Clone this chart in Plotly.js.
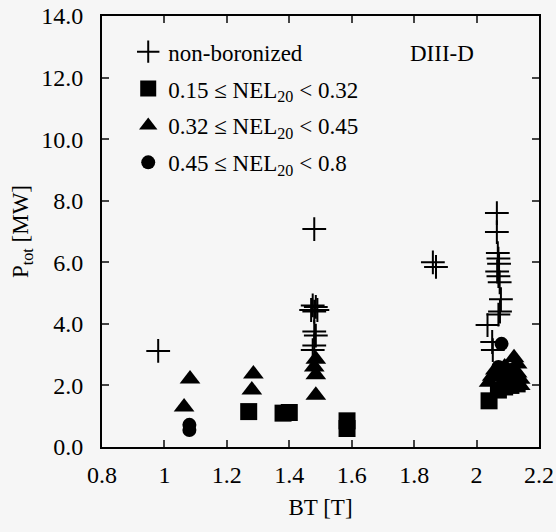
<!DOCTYPE html>
<html>
<head>
<meta charset="utf-8">
<script src="https://cdn.plot.ly/plotly-3.0.1.min.js"></script>
<style>html,body{margin:0;padding:0;background:#f6f6f6;}#chart{width:556px;height:532px;}</style>
</head>
<body>
<div id="chart"></div>
<script>
// non-boronized (+)
const plusBT = [0.98, 1.48, 1.475, 1.485, 1.49, 1.48, 1.47, 1.48, 1.485, 1.475, 1.48, 1.86, 1.87, 2.065, 2.065, 2.068, 2.07, 2.072, 2.066, 2.07, 2.074, 2.078, 2.075, 2.07, 2.035, 2.05, 2.052];
const plusP  = [3.12, 7.08, 4.6, 4.55, 4.45, 4.4, 4.45, 3.75, 3.62, 3.15, 3.3, 6.0, 5.85, 7.6, 6.98, 6.3, 6.12, 5.95, 5.7, 5.55, 5.35, 4.8, 4.4, 4.3, 3.96, 3.41, 3.15];
// 0.15 <= NEL20 < 0.32 (squares)
const sqBT = [1.27, 1.38, 1.40, 1.585, 1.585, 2.04, 2.07, 2.09, 2.11, 2.13];
const sqP  = [1.15, 1.10, 1.12, 0.85, 0.60, 1.50, 1.85, 1.95, 2.00, 2.05];
// 0.32 <= NEL20 < 0.45 (triangles)
const trBT = [1.063, 1.082, 1.28, 1.285, 1.485, 1.485, 1.485, 1.48, 2.04, 2.05, 2.06, 2.08, 2.09, 2.10, 2.11, 2.12, 2.13, 2.13, 2.14, 2.14, 2.12];
const trP  = [1.30, 2.21, 1.85, 2.37, 1.68, 2.35, 2.85, 2.60, 2.10, 2.30, 2.50, 2.30, 2.60, 2.50, 2.20, 2.90, 2.70, 2.40, 2.20, 2.00, 2.10];
// 0.45 <= NEL20 < 0.8 (circles)
const ciBT = [1.08, 1.08, 2.08, 2.07, 2.06, 2.09, 2.11];
const ciP  = [0.72, 0.55, 3.35, 2.60, 2.35, 2.20, 2.50];

const names = ["non-boronized", "0.15 ≤ NEL<sub>20</sub> &lt; 0.32", "0.32 ≤ NEL<sub>20</sub> &lt; 0.45", "0.45 ≤ NEL<sub>20</sub> &lt; 0.8"];
const xTicks = [0.8, 1.0, 1.2, 1.4, 1.6, 1.8, 2.0, 2.2];
const xTickText = ["0.8", "1", "1.2", "1.4", "1.6", "1.8", "2", "2.2"];
const yTicks = [0, 2, 4, 6, 8, 10, 12, 14];
const yTickText = ["0.0", "2.0", "4.0", "6.0", "8.0", "10.0", "12.0", "14.0"];

const F = "'Liberation Serif', 'Times New Roman', serif";
const traces = [
  {x: plusBT, y: plusP, name: names[0], legendgroup: "a", mode: "markers", type: "scatter",
   marker: {symbol: "cross-thin", size: 17, color: "black", line: {color: "black", width: 2}}},
  {x: sqBT, y: sqP, name: names[1], legendgroup: "b", mode: "markers", type: "scatter",
   marker: {symbol: "square", size: 17, color: "black"}},
  {x: trBT, y: trP, name: names[2], legendgroup: "c", mode: "markers", type: "scatter",
   marker: {symbol: "triangle-up", size: 18, color: "black"}},
  {x: ciBT, y: ciP, name: names[3], legendgroup: "d", mode: "markers", type: "scatter",
   marker: {symbol: "circle", size: 14, color: "black"}}
];

const layout = {
  width: 556, height: 532,
  margin: {l: 102, r: 17, t: 16, b: 85},
  paper_bgcolor: "#f6f6f6", plot_bgcolor: "#f6f6f6",
  font: {family: F, size: 23, color: "black"},
  showlegend: true,
  legend: {x: 0.06, y: 0.967, xanchor: "left", yanchor: "top", bgcolor: "rgba(0,0,0,0)",
           font: {family: F, size: 23, color: "black"}, traceorder: "grouped", tracegroupgap: 4},
  xaxis: {range: [0.8, 2.2], tickvals: xTicks, ticktext: xTickText, ticks: "inside", ticklen: 7, tickwidth: 2,
          showline: true, linewidth: 2, linecolor: "black", mirror: "ticks", showgrid: false, zeroline: false,
          tickfont: {family: F, size: 24}, ticklabelstandoff: 5,
          title: {text: "BT [T]", font: {family: F, size: 23}, standoff: 12}},
  yaxis: {range: [0, 14], tickvals: yTicks, ticktext: yTickText, ticks: "inside", ticklen: 7, tickwidth: 2,
          showline: true, linewidth: 2, linecolor: "black", mirror: "ticks", showgrid: false, zeroline: false,
          tickfont: {family: F, size: 24}, ticklabelstandoff: 12,
          title: {text: "P<sub>tot</sub> [MW]", font: {family: F, size: 23}, standoff: 6}},
  annotations: [{text: "DIII-D", xref: "paper", yref: "paper", x: 0.70, y: 0.914, xanchor: "left", yanchor: "middle",
                 showarrow: false, font: {family: F, size: 23, color: "black"}}]
};
Plotly.newPlot("chart", traces, layout, {displayModeBar: false, staticPlot: true});
</script>
</body>
</html>
